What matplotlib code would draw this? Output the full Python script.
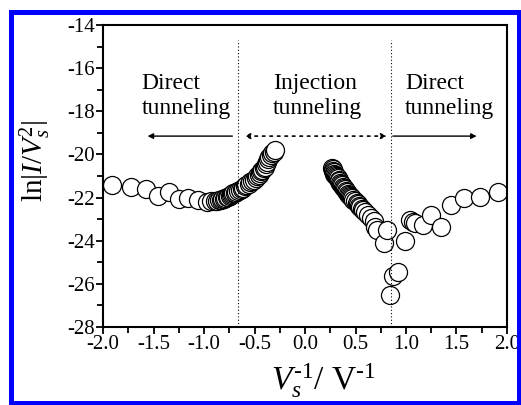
import numpy as np
import matplotlib
matplotlib.use("Agg")
from matplotlib import pyplot as plt
from matplotlib.patches import Rectangle

plt.rcParams["font.family"] = ["Liberation Serif", "DejaVu Serif"]
plt.rcParams["mathtext.fontset"] = "custom"
plt.rcParams["mathtext.rm"] = "Liberation Serif"
plt.rcParams["mathtext.it"] = "Liberation Serif:italic"
plt.rcParams["axes.unicode_minus"] = False

# negative bias branch
v_neg = [-1.91, -1.72, -1.58, -1.46, -1.35, -1.25, -1.16, -1.06, -0.97, -0.93,
         -0.89, -0.87, -0.85, -0.83, -0.82, -0.80, -0.79, -0.77, -0.76, -0.74,
         -0.73, -0.72, -0.71, -0.69, -0.68, -0.66, -0.64, -0.62, -0.61, -0.59,
         -0.58, -0.56, -0.55, -0.53, -0.51, -0.49, -0.48, -0.46, -0.45, -0.44,
         -0.43, -0.41, -0.40, -0.39, -0.38, -0.37, -0.36, -0.34, -0.33, -0.31,
         -0.30]
ln_neg = [-21.42, -21.50, -21.62, -21.91, -21.73, -22.08, -22.03, -22.11, -22.19, -22.17,
          -22.15, -22.14, -22.12, -22.10, -22.08, -22.05, -22.02, -21.99, -21.96, -21.92,
          -21.88, -21.84, -21.80, -21.77, -21.73, -21.69, -21.65, -21.60, -21.54, -21.48,
          -21.42, -21.36, -21.30, -21.25, -21.19, -21.10, -21.02, -20.94, -20.86, -20.79,
          -20.72, -20.65, -20.57, -20.46, -20.35, -20.22, -20.10, -20.02, -19.95, -19.87,
          -19.80]

# positive bias branch
v_pos = [0.27, 0.275, 0.28, 0.285, 0.29, 0.30, 0.31, 0.32, 0.33, 0.335,
         0.34, 0.35, 0.36, 0.37, 0.38, 0.39, 0.40, 0.41, 0.42, 0.43,
         0.44, 0.45, 0.46, 0.47, 0.48, 0.495, 0.51, 0.52, 0.53, 0.545,
         0.56, 0.575, 0.59, 0.62, 0.65, 0.68, 0.69, 0.71, 0.78, 0.81,
         0.84, 0.87, 0.92, 0.99, 1.04, 1.07, 1.09, 1.17, 1.25, 1.35,
         1.45, 1.57, 1.73, 1.91]
ln_pos = [-20.62, -20.68, -20.75, -20.82, -20.90, -20.95, -21.00, -21.05, -21.10, -21.18,
          -21.25, -21.31, -21.38, -21.44, -21.50, -21.56, -21.62, -21.68, -21.75, -21.82,
          -21.88, -21.93, -21.98, -22.04, -22.10, -22.18, -22.25, -22.31, -22.38, -22.45,
          -22.52, -22.60, -22.68, -22.80, -22.95, -23.08, -23.35, -23.50, -24.12, -23.50,
          -26.52, -25.64, -25.44, -24.04, -23.04, -23.12, -23.19, -23.27, -22.81, -23.35,
          -22.35, -22.04, -21.99, -21.73]

# transition voltages
v_t = [-0.668, 0.85]

fig = plt.figure(figsize=(5.21, 4.05), dpi=100)
ax = fig.add_axes([0.198, 0.193, 0.775, 0.745])

mk = dict(ls="none", marker="o", ms=13, mfc="white", mec="black", mew=0.9)
ax.plot(v_neg, ln_neg, **mk)
ax.plot(v_pos, ln_pos, **mk)

for v in v_t:
    ax.plot([v, v], [-28, -14.7], ls=(0, (1, 2)), color="black", lw=0.8)

# regime arrows
ax.annotate("", xy=(-1.56, -19.15), xytext=(-0.72, -19.15),
            arrowprops=dict(arrowstyle="-|>", color="black", lw=1.0,
                            mutation_scale=8, shrinkA=0, shrinkB=0))
ax.annotate("", xy=(1.70, -19.15), xytext=(0.87, -19.15),
            arrowprops=dict(arrowstyle="-|>", color="black", lw=1.0,
                            mutation_scale=8, shrinkA=0, shrinkB=0))
ax.annotate("", xy=(-0.60, -19.15), xytext=(0.81, -19.15),
            arrowprops=dict(arrowstyle="<|-|>", color="black", lw=1.2,
                            ls=(0, (1.5, 3)), mutation_scale=8,
                            shrinkA=0, shrinkB=0))

txt = dict(fontsize=17, va="top", ha="left", linespacing=1.3)
ax.text(-1.62, -16.2, "Direct\ntunneling", **txt)
ax.text(-0.32, -16.2, "Injection\ntunneling", **txt)
ax.text(0.99, -16.2, "Direct\ntunneling", **txt)

ax.set_xlim(-2.0, 2.0)
ax.set_ylim(-28, -14)
ax.set_xticks(np.arange(-2.0, 2.01, 0.5))
ax.set_xticklabels(["%.1f" % t for t in np.arange(-2.0, 2.01, 0.5)])
ax.set_xticks(np.arange(-1.75, 2.0, 0.5), minor=True)
ax.set_yticks(np.arange(-28, -13, 2))
ax.set_yticks(np.arange(-27, -14, 2), minor=True)
ax.tick_params(which="both", direction="out", top=False, right=False,
               labelsize=15, width=1.3)
ax.tick_params(which="major", length=5, pad=1)
ax.tick_params(which="minor", length=4)
for s in ax.spines.values():
    s.set_linewidth(1.5)

ax.set_xlabel(r"$V_s^{\mathit{\text{-1}}}$/ V$^{\text{-1}}$", fontsize=24)
ax.set_ylabel(r"ln$|I/V_s^{2}|$", fontsize=21)
ax.xaxis.set_label_coords(0.545, -0.115)
ax.yaxis.set_label_coords(-0.125, 0.55)

fig.patches.append(Rectangle((10.8 / 521, 2.5 / 405), 508.5 / 521, 390.5 / 405,
                             transform=fig.transFigure, fill=False,
                             edgecolor="#0000ff", lw=3.6))

fig.savefig("out.png", dpi=100)
